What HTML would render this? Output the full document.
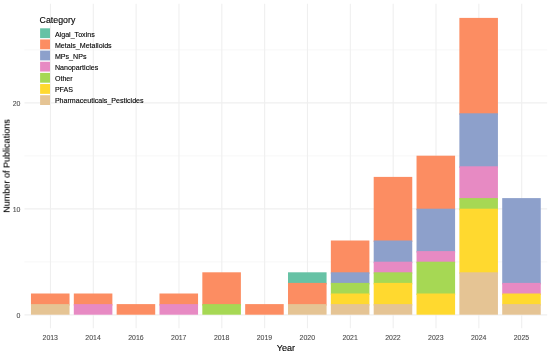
<!DOCTYPE html>
<html><head><meta charset="utf-8"><style>
html,body{margin:0;padding:0;background:#fff;}
body{width:550px;height:354px;overflow:hidden;font-family:"Liberation Sans",sans-serif;}
svg{display:block;}
text{will-change:transform;}
</style></head><body>
<svg width="550" height="354" viewBox="0 0 550 354">
<rect width="550" height="354" fill="#fff"/>
<line x1="24.5" x2="547.2" y1="261.9" y2="261.9" stroke="#EFEFEF" stroke-width="0.55"/>
<line x1="24.5" x2="547.2" y1="155.9" y2="155.9" stroke="#EFEFEF" stroke-width="0.55"/>
<line x1="24.5" x2="547.2" y1="49.9" y2="49.9" stroke="#EFEFEF" stroke-width="0.55"/>
<line x1="24.5" x2="547.2" y1="314.9" y2="314.9" stroke="#EFEFEF" stroke-width="1.1"/>
<line x1="24.5" x2="547.2" y1="208.9" y2="208.9" stroke="#EFEFEF" stroke-width="1.1"/>
<line x1="24.5" x2="547.2" y1="102.9" y2="102.9" stroke="#EFEFEF" stroke-width="1.1"/>
<line x1="50.45" x2="50.45" y1="3.8" y2="328.2" stroke="#EFEFEF" stroke-width="1.1"/>
<line x1="93.29" x2="93.29" y1="3.8" y2="328.2" stroke="#EFEFEF" stroke-width="1.1"/>
<line x1="136.13" x2="136.13" y1="3.8" y2="328.2" stroke="#EFEFEF" stroke-width="1.1"/>
<line x1="178.97" x2="178.97" y1="3.8" y2="328.2" stroke="#EFEFEF" stroke-width="1.1"/>
<line x1="221.81" x2="221.81" y1="3.8" y2="328.2" stroke="#EFEFEF" stroke-width="1.1"/>
<line x1="264.65" x2="264.65" y1="3.8" y2="328.2" stroke="#EFEFEF" stroke-width="1.1"/>
<line x1="307.49" x2="307.49" y1="3.8" y2="328.2" stroke="#EFEFEF" stroke-width="1.1"/>
<line x1="350.33" x2="350.33" y1="3.8" y2="328.2" stroke="#EFEFEF" stroke-width="1.1"/>
<line x1="393.17" x2="393.17" y1="3.8" y2="328.2" stroke="#EFEFEF" stroke-width="1.1"/>
<line x1="436.01" x2="436.01" y1="3.8" y2="328.2" stroke="#EFEFEF" stroke-width="1.1"/>
<line x1="478.85" x2="478.85" y1="3.8" y2="328.2" stroke="#EFEFEF" stroke-width="1.1"/>
<line x1="521.69" x2="521.69" y1="3.8" y2="328.2" stroke="#EFEFEF" stroke-width="1.1"/>
<rect x="30.97" y="293.5" width="38.56" height="12.1" fill="#FC8D62"/>
<rect x="30.97" y="304.1" width="38.56" height="10.6" fill="#E5C494"/>
<rect x="73.81" y="293.5" width="38.56" height="12.1" fill="#FC8D62"/>
<rect x="73.81" y="304.1" width="38.56" height="10.6" fill="#E78AC3"/>
<rect x="116.65" y="304.1" width="38.56" height="10.6" fill="#FC8D62"/>
<rect x="159.49" y="293.5" width="38.56" height="12.1" fill="#FC8D62"/>
<rect x="159.49" y="304.1" width="38.56" height="10.6" fill="#E78AC3"/>
<rect x="202.33" y="272.3" width="38.56" height="33.3" fill="#FC8D62"/>
<rect x="202.33" y="304.1" width="38.56" height="10.6" fill="#A6D854"/>
<rect x="245.17" y="304.1" width="38.56" height="10.6" fill="#FC8D62"/>
<rect x="288.01" y="272.3" width="38.56" height="12.1" fill="#66C2A5"/>
<rect x="288.01" y="282.9" width="38.56" height="22.7" fill="#FC8D62"/>
<rect x="288.01" y="304.1" width="38.56" height="10.6" fill="#E5C494"/>
<rect x="330.85" y="240.5" width="38.56" height="33.3" fill="#FC8D62"/>
<rect x="330.85" y="272.3" width="38.56" height="12.1" fill="#8DA0CB"/>
<rect x="330.85" y="282.9" width="38.56" height="12.1" fill="#A6D854"/>
<rect x="330.85" y="293.5" width="38.56" height="12.1" fill="#FFD92F"/>
<rect x="330.85" y="304.1" width="38.56" height="10.6" fill="#E5C494"/>
<rect x="373.69" y="176.9" width="38.56" height="65.1" fill="#FC8D62"/>
<rect x="373.69" y="240.5" width="38.56" height="22.7" fill="#8DA0CB"/>
<rect x="373.69" y="261.7" width="38.56" height="12.1" fill="#E78AC3"/>
<rect x="373.69" y="272.3" width="38.56" height="12.1" fill="#A6D854"/>
<rect x="373.69" y="282.9" width="38.56" height="22.7" fill="#FFD92F"/>
<rect x="373.69" y="304.1" width="38.56" height="10.6" fill="#E5C494"/>
<rect x="416.53" y="155.7" width="38.56" height="54.5" fill="#FC8D62"/>
<rect x="416.53" y="208.7" width="38.56" height="43.9" fill="#8DA0CB"/>
<rect x="416.53" y="251.1" width="38.56" height="12.1" fill="#E78AC3"/>
<rect x="416.53" y="261.7" width="38.56" height="33.3" fill="#A6D854"/>
<rect x="416.53" y="293.5" width="38.56" height="21.2" fill="#FFD92F"/>
<rect x="459.37" y="17.9" width="38.56" height="96.9" fill="#FC8D62"/>
<rect x="459.37" y="113.3" width="38.56" height="54.5" fill="#8DA0CB"/>
<rect x="459.37" y="166.3" width="38.56" height="33.3" fill="#E78AC3"/>
<rect x="459.37" y="198.1" width="38.56" height="12.1" fill="#A6D854"/>
<rect x="459.37" y="208.7" width="38.56" height="65.1" fill="#FFD92F"/>
<rect x="459.37" y="272.3" width="38.56" height="42.4" fill="#E5C494"/>
<rect x="502.21" y="198.1" width="38.56" height="86.3" fill="#8DA0CB"/>
<rect x="502.21" y="282.9" width="38.56" height="12.1" fill="#E78AC3"/>
<rect x="502.21" y="293.5" width="38.56" height="12.1" fill="#FFD92F"/>
<rect x="502.21" y="304.1" width="38.56" height="10.6" fill="#E5C494"/>
<text x="20.4" y="318.3" text-anchor="end" font-family="Liberation Sans" font-size="6.95" fill="#4D4D4D" stroke="#4D4D4D" stroke-width="0.1">0</text>
<text x="20.4" y="212.3" text-anchor="end" font-family="Liberation Sans" font-size="6.95" fill="#4D4D4D" stroke="#4D4D4D" stroke-width="0.1">10</text>
<text x="20.4" y="106.3" text-anchor="end" font-family="Liberation Sans" font-size="6.95" fill="#4D4D4D" stroke="#4D4D4D" stroke-width="0.1">20</text>
<text x="50.25" y="340.4" text-anchor="middle" font-family="Liberation Sans" font-size="6.95" fill="#4D4D4D" stroke="#4D4D4D" stroke-width="0.1">2013</text>
<text x="93.09" y="340.4" text-anchor="middle" font-family="Liberation Sans" font-size="6.95" fill="#4D4D4D" stroke="#4D4D4D" stroke-width="0.1">2014</text>
<text x="135.93" y="340.4" text-anchor="middle" font-family="Liberation Sans" font-size="6.95" fill="#4D4D4D" stroke="#4D4D4D" stroke-width="0.1">2016</text>
<text x="178.77" y="340.4" text-anchor="middle" font-family="Liberation Sans" font-size="6.95" fill="#4D4D4D" stroke="#4D4D4D" stroke-width="0.1">2017</text>
<text x="221.61" y="340.4" text-anchor="middle" font-family="Liberation Sans" font-size="6.95" fill="#4D4D4D" stroke="#4D4D4D" stroke-width="0.1">2018</text>
<text x="264.45" y="340.4" text-anchor="middle" font-family="Liberation Sans" font-size="6.95" fill="#4D4D4D" stroke="#4D4D4D" stroke-width="0.1">2019</text>
<text x="307.29" y="340.4" text-anchor="middle" font-family="Liberation Sans" font-size="6.95" fill="#4D4D4D" stroke="#4D4D4D" stroke-width="0.1">2020</text>
<text x="350.13" y="340.4" text-anchor="middle" font-family="Liberation Sans" font-size="6.95" fill="#4D4D4D" stroke="#4D4D4D" stroke-width="0.1">2021</text>
<text x="392.97" y="340.4" text-anchor="middle" font-family="Liberation Sans" font-size="6.95" fill="#4D4D4D" stroke="#4D4D4D" stroke-width="0.1">2022</text>
<text x="435.81" y="340.4" text-anchor="middle" font-family="Liberation Sans" font-size="6.95" fill="#4D4D4D" stroke="#4D4D4D" stroke-width="0.1">2023</text>
<text x="478.65" y="340.4" text-anchor="middle" font-family="Liberation Sans" font-size="6.95" fill="#4D4D4D" stroke="#4D4D4D" stroke-width="0.1">2024</text>
<text x="521.49" y="340.4" text-anchor="middle" font-family="Liberation Sans" font-size="6.95" fill="#4D4D4D" stroke="#4D4D4D" stroke-width="0.1">2025</text>
<text x="285.85" y="350.5" text-anchor="middle" font-family="Liberation Sans" font-size="9" fill="#000" stroke="#000" stroke-width="0.12">Year</text>
<text transform="translate(9.6 166) rotate(-90)" x="0" y="0" text-anchor="middle" font-family="Liberation Sans" font-size="9.05" fill="#000" stroke="#000" stroke-width="0.12">Number of Publications</text>
<text x="39.6" y="22.6" font-family="Liberation Sans" font-size="8.8" fill="#000" stroke="#000" stroke-width="0.12">Category</text>
<rect x="40.1" y="28.3" width="9.9" height="9.8" fill="#66C2A5"/>
<text x="54.9" y="36.5" font-family="Liberation Sans" font-size="7.1" fill="#000" stroke="#000" stroke-width="0.12">Algal_Toxins</text>
<rect x="40.1" y="39.45" width="9.9" height="9.8" fill="#FC8D62"/>
<text x="54.9" y="47.65" font-family="Liberation Sans" font-size="7.1" fill="#000" stroke="#000" stroke-width="0.12">Metals_Metalloids</text>
<rect x="40.1" y="50.6" width="9.9" height="9.8" fill="#8DA0CB"/>
<text x="54.9" y="58.8" font-family="Liberation Sans" font-size="7.1" fill="#000" stroke="#000" stroke-width="0.12">MPs_NPs</text>
<rect x="40.1" y="61.75" width="9.9" height="9.8" fill="#E78AC3"/>
<text x="54.9" y="69.95" font-family="Liberation Sans" font-size="7.1" fill="#000" stroke="#000" stroke-width="0.12">Nanoparticles</text>
<rect x="40.1" y="72.9" width="9.9" height="9.8" fill="#A6D854"/>
<text x="54.9" y="81.1" font-family="Liberation Sans" font-size="7.1" fill="#000" stroke="#000" stroke-width="0.12">Other</text>
<rect x="40.1" y="84.05" width="9.9" height="9.8" fill="#FFD92F"/>
<text x="54.9" y="92.25" font-family="Liberation Sans" font-size="7.1" fill="#000" stroke="#000" stroke-width="0.12">PFAS</text>
<rect x="40.1" y="95.2" width="9.9" height="9.8" fill="#E5C494"/>
<text x="54.9" y="103.4" font-family="Liberation Sans" font-size="7.1" fill="#000" stroke="#000" stroke-width="0.12">Pharmaceuticals_Pesticides</text>
</svg>
</body></html>
